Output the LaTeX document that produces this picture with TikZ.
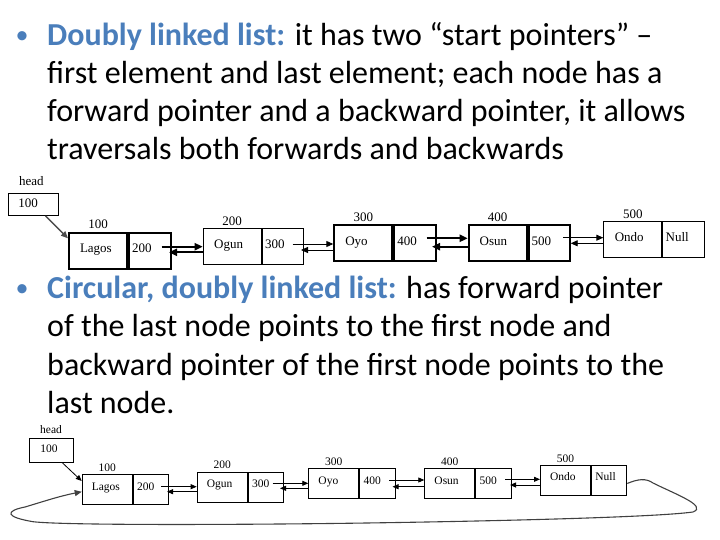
\documentclass[tikz,border=0pt]{standalone}
\usepackage{fontspec}
\setmainfont{Carlito}
\newfontfamily\tnr{Liberation Serif}
\usetikzlibrary{arrows.meta}
\definecolor{hdblue}{RGB}{74,126,187}
\begin{document}
\begin{tikzpicture}[x=1pt,y=-1pt,
  body/.style={font=\fontsize{32}{38}\selectfont, anchor=base west, inner sep=0pt},
  bul/.style={font=\fontsize{26}{30}\selectfont, text=hdblue, anchor=base, inner sep=0pt},
  lone/.style={font=\tnr\fontsize{13}{15}\selectfont},
  ltwo/.style={font=\tnr\fontsize{11.5}{13}\selectfont},
  cell/.style={draw, rectangle, anchor=north west, align=left, inner ysep=0pt},
  nameA/.style={cell, lone, minimum height=36pt, text height=8pt, text depth=4pt, inner xsep=11pt, text width=36pt},
  ptrA/.style={cell, lone, minimum height=36pt, text height=8pt, text depth=4pt, inner xsep=3pt, text width=35.5pt},
  nameB/.style={cell, ltwo, minimum height=30pt, text height=6pt, text depth=5pt, inner xsep=9.7pt, text width=30.6pt},
  ptrB/.style={cell, ltwo, minimum height=30pt, text height=6pt, text depth=5pt, inner xsep=4pt, text width=27.5pt},
  thick2/.style={line width=2pt},
  thin1/.style={line width=0.9pt},
  addrA/.style={label={[lone, anchor=south, inner sep=0pt, label distance=2.5pt]north:#1}},
  addrB/.style={label={[ltwo, anchor=south, inner sep=0pt, label distance=2.5pt]north:#1}},
  tarr/.style={line width=2pt, -{Triangle[length=8pt,width=7pt]}},
  narr/.style={line width=0.9pt, -{Triangle[length=7pt,width=6pt]}},
  sarr/.style={line width=0.8pt, -{Triangle[length=6pt,width=5pt]}},
  circ/.style={line width=1.1pt, draw=black!75, -{Triangle[length=7pt,width=6pt]}}
]
\useasboundingbox (0,0) rectangle (720,540);

% ---------- bullet text ----------
\node[bul] (b1) at (22,44) {\textbullet};
\node[body] (t1) at (47,46) {\textcolor{hdblue}{\bfseries Doubly linked list:} it has two “start pointers” –};
\node[body] (t2) at (47,84) {first element and last element; each node has a};
\node[body] (t3) at (47,122) {forward pointer and a backward pointer, it allows};
\node[body] (t4) at (47,160) {traversals both forwards and backwards};

\node[bul] (b2) at (22,296) {\textbullet};
\node[body] (t5) at (47,298) {\textcolor{hdblue}{\bfseries Circular, doubly linked list:} has forward pointer};
\node[body] (t6) at (47,336) {of the last node points to the first node and};
\node[body] (t7) at (47,375) {backward pointer of the first node points to the};
\node[body] (t8) at (47,413) {last node.};

% ---------- list 1 ----------
\node[lone, anchor=base, inner sep=0pt] (hl1) at (31.3,185.5) {head};
\node[cell, lone, thin1, minimum height=22pt, text height=8pt, text depth=2pt, inner xsep=10pt, text width=30pt] (h1) at (8,193) {100};

\node[nameA, thick2, addrA=100] (a1) at (68,231.7) {Lagos};
\node[ptrA, thick2] (p1) at (a1.north east) {200};
\node[nameA, thin1, addrA=200] (a2) at (202.7,228.3) {Ogun};
\node[ptrA, thin1] (p2) at (a2.north east) {300};
\node[nameA, thick2, addrA=300] (a3) at (333.3,224.3) {Oyo};
\node[ptrA, thick2] (p3) at (a3.north east) {400};
\node[nameA, thick2, addrA=400] (a4) at (467.7,224.3) {Osun};
\node[ptrA, thick2] (p4) at (a4.north east) {500};
\node[nameA, thin1, addrA=500] (a5) at (603.3,221) {Ondo};
\node[ptrA, thin1] (p5) at (a5.north east) {Null};

\draw[line width=1.4pt, draw=black!70, -{Triangle[length=7pt,width=6pt]}] ([xshift=12pt]h1.south) -- ([yshift=-6.6pt]a1.north west);

\coordinate (f1) at (161.7,246.7); \coordinate (r1) at (169,252.3);
\coordinate (f2) at (292.7,244);   \coordinate (r2) at (301,250);
\coordinate (f3) at (426.7,238.3); \coordinate (r3) at (432,246.7);
\coordinate (f4) at (563.3,237.7); \coordinate (r4) at (570.7,243.3);
\draw[tarr] (f1) -- (f1 -| a2.west);
\draw[tarr] (r1 -| a2.west) -- (r1);
\draw[narr] (f2) -- (f2 -| a3.west);
\draw[narr] (r2 -| a3.west) -- (r2);
\draw[tarr] (f3) -- (f3 -| a4.west);
\draw[tarr] (r3 -| a4.west) -- (r3);
\draw[narr] (f4) -- (f4 -| a5.west);
\draw[narr] (r4 -| a5.west) -- (r4);

% ---------- list 2 ----------
\node[ltwo, anchor=base, inner sep=0pt] (hl2) at (51,433) {head};
\node[cell, ltwo, thin1, minimum height=23.4pt, text height=7pt, text depth=2pt, inner xsep=10.7pt, text width=22pt] (h2) at (29.3,438.3) {100};

\node[nameB, thin1, addrB=100] (c1) at (81.7,474.3) {Lagos};
\node[ptrB, thin1] (q1) at (c1.north east) {200};
\node[nameB, thin1, addrB=200] (c2) at (196.7,471.7) {Ogun};
\node[ptrB, thin1] (q2) at (c2.north east) {300};
\node[nameB, thin1, addrB=300] (c3) at (308.3,468.3) {Oyo};
\node[ptrB, thin1] (q3) at (c3.north east) {400};
\node[nameB, thin1, addrB=400] (c4) at (424.3,468.3) {Osun};
\node[ptrB, thin1] (q4) at (c4.north east) {500};
\node[nameB, thin1, addrB=500] (c5) at (540,465) {Ondo};
\node[ptrB, thin1] (q5) at (c5.north east) {Null};

\draw[sarr] ([xshift=10.7pt]h2.south) -- ([yshift=-6.7pt]c1.north west);

\coordinate (g1) at (161,486.7);   \coordinate (s1) at (167,491.7);
\coordinate (g2) at (272.7,483.3); \coordinate (s2) at (280,488.3);
\coordinate (g3) at (389.3,480);   \coordinate (s3) at (392.5,486.7);
\coordinate (g4) at (505,479.3);   \coordinate (s4) at (510,485);
\draw[sarr] (g1) -- (g1 -| c2.west);
\draw[sarr] (s1 -| c2.west) -- (s1);
\draw[sarr] (g2) -- (g2 -| c3.west);
\draw[sarr] (s2 -| c3.west) -- (s2);
\draw[sarr] (g3) -- (g3 -| c4.west);
\draw[sarr] (s3 -| c4.west) -- (s3);
\draw[sarr] (g4) -- (g4 -| c5.west);
\draw[sarr] (s4 -| c5.west) -- (s4);

% circular link
\draw[circ] ([yshift=-3pt]q5.east)
  .. controls (638,479) and (646,478) .. (653,483)
  .. controls (675,494) and (708,506) .. (693,512)
  .. controls (650,518) and (450,522) .. (330,523.5)
  .. controls (200,525) and (60,525) .. (33,521.7)
  .. controls (5,517) and (5,511) .. (25,507)
  .. controls (45,501) and (60,496) .. ([yshift=-2pt]c1.west);
\end{tikzpicture}
\end{document}
